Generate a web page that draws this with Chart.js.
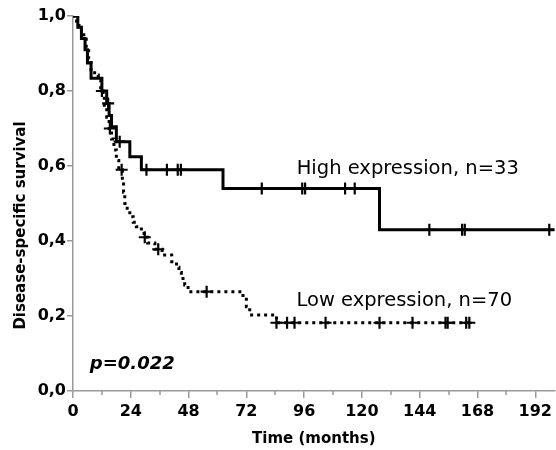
<!DOCTYPE html>
<html>
<head>
<meta charset="utf-8">
<script src="https://cdn.jsdelivr.net/npm/chart.js@4.4.1/dist/chart.umd.min.js"></script>
<style>
  html, body { margin: 0; padding: 0; background: #fff; overflow: hidden; }
  #wrap { width: 556px; height: 450px; }
  canvas { display: block; }
</style>
</head>
<body>
<div id="wrap"><canvas id="km"></canvas></div>
<script>
// Kaplan-Meier steps: time (months) where survival drops, and the new level
const highTimes = [0, 2, 3.5, 5, 6, 7.5, 12, 14, 15, 16, 18, 23.6, 28.4, 62.3, 127.3, 200];
const highSurv = [1.0, 0.97, 0.94, 0.91, 0.875, 0.834, 0.80, 0.767, 0.735, 0.705, 0.665, 0.625, 0.59, 0.54, 0.43, 0.43];
const highCensored = [14.6, 19.4, 30.5, 39, 43.5, 44.8, 78.4, 95.2, 96.4, 113, 117, 148, 161.6, 162.7, 197.8];

const lowTimes = [0, 1.5, 2.5, 3.5, 4.5, 5.5, 6.5, 7.5, 9, 10.5, 11.5, 12.5, 13, 14, 15, 16, 17, 18, 19, 20.5,
  21, 21.5, 22.5, 23.6, 25, 26.3, 28.4, 29.5, 31, 34, 37, 41, 43, 44, 45, 46.4, 47.8, 70.6, 72, 73.4, 84.5, 165];
const lowSurv = [1.0, 0.986, 0.971, 0.957, 0.943, 0.914, 0.886, 0.857, 0.843, 0.828, 0.80, 0.785, 0.755, 0.73, 0.70, 0.672, 0.643, 0.615, 0.59, 0.56,
  0.53, 0.50, 0.48, 0.465, 0.45, 0.438, 0.425, 0.41, 0.395, 0.378, 0.363, 0.345, 0.33, 0.316, 0.30, 0.283, 0.265, 0.245, 0.225, 0.203, 0.182, 0.182];
const lowCensored = [12.0, 15.3, 20.2, 29.8, 35.4, 55.5, 84.5, 88.9, 92, 104.9, 127.3, 141, 154.7, 155.6, 163.3, 164.6];

const xTickLabels = [0, 24, 48, 72, 96, 120, 144, 168, 192];
const xMinorTicks = [12, 36, 60, 84, 108, 132, 156, 180];
const yTickLabels = [0, 0.2, 0.4, 0.6, 0.8, 1.0];

const highLabel = 'High expression, n=33';
const lowLabel = 'Low expression, n=70';
const pLabel = 'p=0.022';

function survAt(times, surv, t) {
  let s = surv[0];
  for (let i = 0; i < times.length; i++) if (times[i] <= t) s = surv[i];
  return s;
}
const toPoints = (times, surv) => times.map((t, i) => ({ x: t, y: surv[i] }));
const censorPoints = (list, times, surv) => list.map(t => ({ x: t, y: survAt(times, surv, t) }));

const FONT = '"DejaVu Sans", Verdana, sans-serif';
const AXIS_GRAY = '#999';

const kmText = {
  id: 'kmText',
  afterDraw(chart) {
    const { ctx, chartArea, scales: { x, y } } = chart;
    ctx.save();
    // minor ticks on the time axis
    ctx.strokeStyle = AXIS_GRAY;
    ctx.lineWidth = 1.5;
    xMinorTicks.forEach(v => {
      const px = Math.round(x.getPixelForValue(v));
      ctx.beginPath();
      ctx.moveTo(px, chartArea.bottom);
      ctx.lineTo(px, chartArea.bottom + 4);
      ctx.stroke();
    });
    ctx.fillStyle = '#000';
    ctx.textAlign = 'left';
    ctx.textBaseline = 'alphabetic';
    ctx.font = '19.5px ' + FONT;
    ctx.fillText(highLabel, x.getPixelForValue(92.9), y.getPixelForValue(0.578));
    ctx.fillText(lowLabel, x.getPixelForValue(92.8), y.getPixelForValue(0.227));
    ctx.font = 'italic bold 18px ' + FONT;
    ctx.fillText(pLabel, x.getPixelForValue(7), y.getPixelForValue(0.06));
    // y axis title
    ctx.translate(21, (chartArea.top + chartArea.bottom) / 2 + 22);
    ctx.rotate(-Math.PI / 2);
    ctx.textAlign = 'center';
    ctx.textBaseline = 'middle';
    ctx.font = 'bold 15px ' + FONT;
    ctx.fillText('Disease-specific survival', 0, 0);
    ctx.restore();
  }
};

new Chart(document.getElementById('km'), {
  type: 'line',
  data: {
    datasets: [
      {
        data: toPoints(highTimes, highSurv),
        stepped: true,
        borderColor: '#000',
        borderWidth: 3,
        borderJoinStyle: 'miter',
        pointRadius: 0,
        fill: false,
      },
      {
        data: toPoints(lowTimes, lowSurv),
        stepped: true,
        borderColor: '#000',
        borderWidth: 3,
        borderDash: [3, 4],
        borderCapStyle: 'butt',
        pointRadius: 0,
        fill: false,
      },
      {
        data: censorPoints(highCensored, highTimes, highSurv),
        showLine: false,
        pointStyle: 'cross',
        pointRadius: 6,
        pointBorderWidth: 2.2,
        borderColor: '#000',
      },
      {
        data: censorPoints(lowCensored, lowTimes, lowSurv),
        showLine: false,
        pointStyle: 'cross',
        pointRadius: 6,
        pointBorderWidth: 2.2,
        borderColor: '#000',
      },
    ],
  },
  options: {
    responsive: true,
    maintainAspectRatio: false,
    animation: false,
    devicePixelRatio: 1,
    layout: { autoPadding: false, padding: { top: 16, right: 0, bottom: 0, left: 0 } },
    plugins: { legend: { display: false }, tooltip: { enabled: false } },
    scales: {
      x: {
        type: 'linear',
        min: 0,
        max: 200,
        afterBuildTicks: axis => { axis.ticks = xTickLabels.map(v => ({ value: v })); },
        afterFit: axis => { axis.height = 59; },
        ticks: {
          color: '#000',
          font: { family: FONT, weight: 'bold', size: 16 },
          padding: 4,
          autoSkip: false,
          maxRotation: 0,
        },
        grid: { drawOnChartArea: false, drawTicks: true, tickLength: 7, color: AXIS_GRAY, lineWidth: 1.5 },
        border: { color: AXIS_GRAY, width: 1.5 },
        title: {
          display: true,
          text: 'Time (months)',
          color: '#000',
          font: { family: FONT, weight: 'bold', size: 15 },
          padding: { top: 0, bottom: 2 },
        },
      },
      y: {
        min: 0,
        max: 1,
        afterBuildTicks: axis => { axis.ticks = yTickLabels.map(v => ({ value: v })); },
        afterFit: axis => { axis.width = 73; },
        ticks: {
          color: '#000',
          font: { family: FONT, weight: 'bold', size: 16 },
          padding: 1,
          callback: v => v.toFixed(1).replace('.', ','),
        },
        grid: { drawOnChartArea: false, drawTicks: true, tickLength: 6, color: AXIS_GRAY, lineWidth: 1.5 },
        border: { color: AXIS_GRAY, width: 1.5 },
      },
    },
  },
  plugins: [kmText],
});
</script>
</body>
</html>
